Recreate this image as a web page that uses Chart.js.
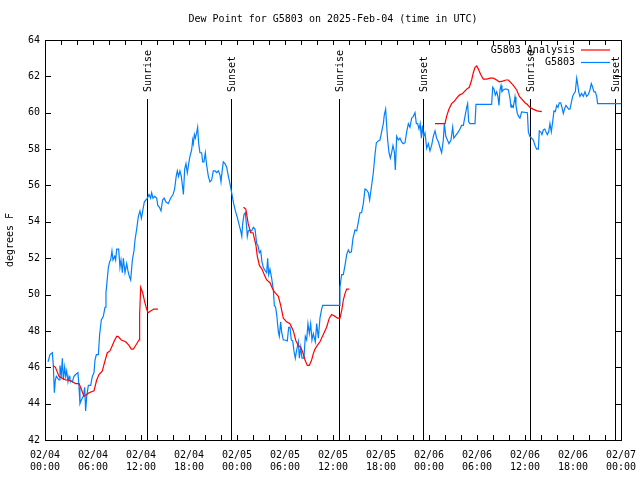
<!DOCTYPE html>
<html>
<head>
<meta charset="utf-8">
<script src="https://cdn.jsdelivr.net/npm/chart.js@4.4.1/dist/chart.umd.min.js"></script>
<style>
html,body{margin:0;padding:0;background:#fff;}
canvas{display:block;}
</style>
</head>
<body>
<canvas id="c" width="640" height="480"></canvas>
<script>
// ---- data (hours since 2025-02-04 00:00 UTC) ----
const xTickHours = [0,6,12,18,24,30,36,42,48,54,60,66,72];
const xTickDates = ['02/04','02/04','02/04','02/04','02/05','02/05','02/05','02/05','02/06','02/06','02/06','02/06','02/07'];
const xTickTimes = ['00:00','06:00','12:00','18:00','00:00','06:00','12:00','18:00','00:00','06:00','12:00','18:00','00:00'];

const sunHours = [12.8, 23.3, 36.8, 47.25, 60.65, 71.2];
const sunLabels = ['Sunrise','Sunset','Sunrise','Sunset','Sunrise','Sunset'];

const obsHours = [0.375,0.625,0.92,1.04,1.17,1.29,1.42,1.75,1.87,2.04,2.17,2.29,2.46,2.58,2.71,2.87,3.0,3.12,3.42,3.62,3.83,4.12,4.25,4.37,4.54,4.79,4.96,5.08,5.21,5.42,5.71,5.92,6.12,6.25,6.42,6.67,6.83,7.04,7.29,7.5,7.62,7.75,7.92,8.08,8.21,8.37,8.5,8.71,8.83,8.96,9.21,9.37,9.5,9.67,9.79,10.0,10.21,10.37,10.54,10.71,10.92,11.12,11.25,11.46,11.67,11.87,12.05,12.25,12.42,12.8,13.0,13.2,13.33,13.5,13.7,13.96,14.1,14.3,14.5,14.7,14.9,15.1,15.4,15.7,16.0,16.2,16.4,16.54,16.7,16.87,17.04,17.2,17.3,17.46,17.62,17.79,17.96,18.12,18.33,18.46,18.54,18.67,18.79,18.96,19.08,19.21,19.37,19.58,19.71,19.87,20.04,20.21,20.42,20.62,20.83,21.04,21.25,21.46,21.67,21.87,22.0,22.17,22.29,22.5,22.71,22.92,23.12,23.33,23.58,23.8,24.0,24.2,24.46,24.6,24.71,24.875,25.04,25.17,25.29,25.42,25.62,25.83,26.04,26.25,26.46,26.62,26.79,26.96,27.12,27.29,27.46,27.71,27.83,27.96,28.12,28.33,28.54,28.67,28.83,28.96,29.17,29.29,29.46,29.58,29.79,30.0,30.29,30.46,30.62,30.79,30.96,31.12,31.29,31.46,31.67,31.79,31.96,32.12,32.37,32.54,32.71,32.87,33.04,33.21,33.37,33.54,33.79,33.96,34.17,34.37,34.58,34.71,36.75,36.87,37.08,37.29,37.5,37.71,37.92,38.1,38.3,38.5,38.75,38.96,39.17,39.37,39.58,39.79,40.0,40.2,40.42,40.58,40.75,40.92,41.04,41.25,41.42,41.67,41.87,42.08,42.29,42.42,42.58,42.71,42.83,43.0,43.17,43.33,43.5,43.67,43.79,43.96,44.17,44.37,44.58,44.79,45.0,45.21,45.42,45.62,45.83,46.04,46.25,46.42,46.58,46.75,46.9,47.05,47.17,47.33,47.5,47.71,47.92,48.12,48.33,48.54,48.75,48.96,49.17,49.37,49.58,49.79,49.92,50.1,50.3,50.5,50.75,50.96,51.1,51.37,51.67,51.87,52.08,52.29,52.5,52.71,52.83,52.96,53.12,53.54,53.75,53.875,55.83,55.96,56.12,56.29,56.46,56.62,56.75,56.875,57.0,57.12,57.29,57.5,57.71,57.92,58.12,58.25,58.37,58.54,58.75,58.87,59.04,59.21,59.37,59.58,60.3,60.42,60.6,60.83,61.04,61.25,61.46,61.67,61.79,61.96,62.12,62.29,62.46,62.62,62.79,62.96,63.12,63.29,63.46,63.62,63.79,63.96,64.12,64.29,64.46,64.62,64.79,64.96,65.12,65.29,65.46,65.62,65.79,65.96,66.12,66.29,66.46,66.58,66.71,66.87,67.08,67.29,67.5,67.71,67.92,68.12,68.29,68.46,68.62,68.79,68.96,69.08,72.0];
const obsValues = [46.3,46.7,46.8,46.1,44.6,45.3,45.5,45.3,46.1,45.6,46.5,45.3,46.0,45.5,45.8,45.2,45.5,45.3,45.2,45.5,45.6,45.7,44.9,44.0,44.2,44.4,44.9,43.6,44.4,45.0,45.0,45.5,45.7,46.4,46.7,46.7,47.8,48.6,48.8,49.3,50.1,50.7,51.5,51.8,51.9,52.4,51.9,52.1,51.9,52.5,52.5,51.5,51.9,51.2,52.0,51.2,51.7,51.3,51.0,50.8,51.9,52.4,53.0,53.6,54.3,54.6,54.2,54.7,55.1,55.3,55.5,55.3,55.6,55.3,55.4,55.3,54.9,54.8,54.6,55.2,55.3,55.1,55.0,55.3,55.5,55.8,56.5,56.8,56.5,56.8,56.5,55.9,55.5,56.9,57.2,56.7,57.2,57.6,57.95,58.5,58.3,58.8,58.6,58.9,59.2,58.3,57.8,57.8,57.3,57.3,57.8,57.1,56.5,56.2,56.3,56.8,56.8,56.7,56.8,56.6,56.2,56.9,57.3,57.2,57.0,56.5,56.1,55.6,55.0,54.6,54.3,53.95,53.5,53.2,53.9,54.4,54.5,53.9,53.2,53.5,53.55,53.5,53.7,53.6,52.8,52.7,52.3,52.4,51.8,51.5,51.35,51.2,52.0,51.1,51.4,50.9,50.25,49.4,49.3,48.9,47.95,47.7,48.5,47.95,47.5,47.5,47.45,48.2,48.2,47.5,47.45,46.9,46.5,46.95,47.4,46.5,47.1,46.5,46.5,47.7,47.5,48.4,47.85,48.4,47.5,47.85,47.4,48.4,47.6,48.7,49.2,49.4,49.4,50.4,51.1,51.1,51.6,52.2,52.45,52.3,52.35,53.1,53.55,53.5,54.0,54.5,54.5,55.0,55.8,55.75,55.6,55.2,55.75,56.3,56.7,57.7,58.35,58.45,58.5,58.95,59.4,59.9,60.2,59.3,58.5,57.8,57.5,57.8,58.2,57.85,56.85,58.7,58.5,58.6,58.4,58.3,58.35,58.95,59.4,59.2,59.7,59.8,60.0,59.4,59.4,59.1,59.4,58.6,59.3,58.7,58.9,58.04,58.3,57.9,58.2,58.7,59.0,58.6,58.4,58.1,57.8,58.5,59.4,58.7,58.5,58.3,58.5,59.2,58.6,58.77,58.95,59.1,59.3,59.3,59.8,60.3,60.5,59.5,59.4,59.4,59.4,60.46,60.46,61.4,61.3,60.97,61.15,60.88,60.4,61.25,61.5,61.15,61.25,61.3,61.3,61.25,60.8,60.3,60.4,60.3,60.88,60.4,59.96,59.8,59.7,60.05,60.0,58.95,58.7,58.6,58.5,58.2,58.0,58.0,59.0,58.95,58.8,59.05,59.1,58.95,58.8,58.95,59.4,58.95,59.5,60.1,60.06,60.4,60.3,60.55,60.55,60.3,59.96,60.24,60.4,60.3,60.2,60.2,60.55,60.9,61.06,61.15,61.9,61.6,61.15,60.9,61.06,60.9,61.15,60.9,61.0,61.25,61.6,61.4,61.15,61.15,60.9,60.5,60.5];

const anaHours = [1.0,1.3,1.75,2.17,2.58,2.87,3.42,3.83,4.25,4.54,4.87,5.21,5.5,6.12,6.46,6.75,7.17,7.46,7.79,8.12,8.42,8.71,8.96,9.12,9.54,10.08,10.5,10.79,11.04,11.33,11.75,11.83,11.96,12.21,12.46,12.71,12.87,13.2,13.62,14.12,
  null,
  24.8,25.1,25.4,25.7,26.0,26.37,26.54,26.8,27.12,27.5,27.71,28.12,28.46,28.75,29.17,29.46,29.79,30.2,30.62,31.04,31.37,31.67,31.96,32.2,32.5,32.79,33.04,33.33,33.54,33.75,34.04,34.37,34.79,35.2,35.54,35.83,36.25,36.54,36.87,37.08,37.29,37.5,37.71,38.04,
  null,
  48.75,50.0,50.2,50.5,50.83,51.1,51.46,51.79,52.2,52.71,53.04,53.33,53.54,53.75,53.96,54.17,54.46,54.79,55.2,55.62,56.04,56.46,56.79,57.2,57.62,57.92,58.2,58.54,58.96,59.3,59.6,60.0,60.3,60.6,61.0,61.5,62.1];
const anaValues = [46.1,46.0,45.5,45.4,45.3,45.3,45.2,45.1,45.1,44.8,44.4,44.5,44.6,44.7,45.3,45.6,45.8,46.3,46.8,46.9,47.2,47.5,47.7,47.7,47.5,47.4,47.2,47.0,47.0,47.2,47.5,48.9,50.4,50.1,49.6,49.2,49.0,49.1,49.2,49.2,
  null,
  54.8,54.7,53.9,53.4,53.4,52.7,52.1,51.6,51.4,51.0,50.8,50.65,50.3,50.1,49.9,49.4,48.7,48.5,48.4,48.0,47.45,47.2,47.1,46.85,46.4,46.1,46.1,46.4,46.75,47.0,47.2,47.4,47.8,48.2,48.7,48.9,48.8,48.7,48.7,49.1,49.7,50.05,50.3,50.3,
  null,
  59.4,59.4,59.8,60.2,60.5,60.6,60.8,60.97,61.06,61.3,61.4,61.8,62.2,62.5,62.57,62.4,62.1,61.85,61.85,61.9,61.9,61.8,61.7,61.74,61.8,61.8,61.67,61.5,61.25,60.9,60.75,60.55,60.45,60.3,60.2,60.1,60.06];

const FONT = 'DejaVu Sans Mono';
const font10 = {family: FONT, size: 10, weight: 'normal'};

const toPts = (hs, vs) => hs.map((h, i) => (h === null ? {x: (hs[i-1] + hs[i+1]) / 2, y: null} : {x: h, y: vs[i]}));

const decor = {
  id: 'decor',
  beforeDatasetsDraw(chart) {
    const {ctx, chartArea: a, scales: {x}} = chart;
    ctx.save();
    ctx.strokeStyle = '#000';
    ctx.lineWidth = 1;
    ctx.fillStyle = '#000';
    ctx.font = '10px "' + FONT + '"';
    sunHours.forEach((h, i) => {
      const px = Math.round(x.getPixelForValue(h)) + 0.5;
      ctx.beginPath();
      ctx.moveTo(px, 99);
      ctx.lineTo(px, a.bottom);
      ctx.stroke();
      ctx.save();
      ctx.translate(px + 1, 92);
      ctx.rotate(-Math.PI / 2);
      ctx.textAlign = 'left';
      ctx.textBaseline = 'middle';
      ctx.fillText(sunLabels[i], 0, 0);
      ctx.restore();
    });
    ctx.restore();
  },
  afterDatasetsDraw(chart) {
    const {ctx, chartArea: a, scales: {x, y}} = chart;
    ctx.save();
    ctx.strokeStyle = '#000';
    ctx.lineWidth = 1;
    // border
    ctx.strokeRect(Math.round(a.left) + 0.5, Math.round(a.top) + 0.5, Math.round(a.right - a.left), Math.round(a.bottom - a.top));
    // x ticks every 2h, inward top and bottom
    ctx.beginPath();
    for (let h = 0; h <= 72; h += 2) {
      const px = Math.round(x.getPixelForValue(h)) + 0.5;
      ctx.moveTo(px, a.bottom); ctx.lineTo(px, a.bottom - 5);
      ctx.moveTo(px, a.top); ctx.lineTo(px, a.top + 5);
    }
    // y ticks
    y.ticks.forEach(t => {
      const py = Math.round(y.getPixelForValue(t.value)) + 0.5;
      ctx.moveTo(a.left, py); ctx.lineTo(a.left + 6, py);
      ctx.moveTo(a.right, py); ctx.lineTo(a.right - 6, py);
    });
    ctx.stroke();
    // legend
    ctx.font = '10px "' + FONT + '"';
    ctx.fillStyle = '#000';
    ctx.textAlign = 'right';
    ctx.textBaseline = 'middle';
    const rows = [50, 62.5];
    chart.data.datasets.forEach((ds, i) => {
      ctx.fillText(ds.label, 575, rows[i]);
      ctx.strokeStyle = ds.borderColor;
      ctx.lineWidth = 1.2;
      ctx.beginPath();
      ctx.moveTo(581, rows[i]); ctx.lineTo(610, rows[i]);
      ctx.stroke();
    });
    ctx.restore();
  }
};

new Chart(document.getElementById('c'), {
  type: 'line',
  data: {
    datasets: [
      {label: 'G5803 Analysis', data: toPts(anaHours, anaValues), borderColor: '#ff0000', borderWidth: 1.2, pointRadius: 0, tension: 0, spanGaps: false, fill: false},
      {label: 'G5803', data: toPts(obsHours, obsValues), borderColor: '#0080ff', borderWidth: 1.2, pointRadius: 0, tension: 0, fill: false}
    ]
  },
  options: {
    responsive: false,
    animation: false,
    devicePixelRatio: 1,
    layout: {padding: {left: 0, right: 19, top: 0, bottom: 0}},
    plugins: {
      legend: {display: false},
      tooltip: {enabled: false},
      title: {display: true, fullSize: false, text: 'Dew Point for G5803 on 2025-Feb-04 (time in UTC)', font: font10, color: '#000', padding: {top: 13, bottom: 15}}
    },
    scales: {
      x: {
        type: 'linear', min: 0, max: 72,
        afterBuildTicks: s => { s.ticks = xTickHours.map(v => ({value: v})); },
        afterFit: s => { s.height = 40; s.paddingLeft = 0; s.paddingRight = 0; },
        ticks: {autoSkip: false, maxRotation: 0, minRotation: 0, padding: 9, color: '#000', font: font10,
          callback: (v, i) => [xTickDates[i], xTickTimes[i]]},
        grid: {display: false, drawTicks: false},
        border: {display: true, color: '#000'}
      },
      y: {
        min: 42, max: 64,
        afterFit: s => { s.width = 45; s.paddingTop = 0; s.paddingBottom = 0; },
        ticks: {stepSize: 2, padding: 5, color: '#000', font: font10},
        title: {display: true, text: 'degrees F', color: '#000', font: font10, padding: {top: 4, bottom: 0}},
        grid: {display: false, drawTicks: false},
        border: {display: true, color: '#000'}
      }
    }
  },
  plugins: [decor]
});
</script>
</body>
</html>
